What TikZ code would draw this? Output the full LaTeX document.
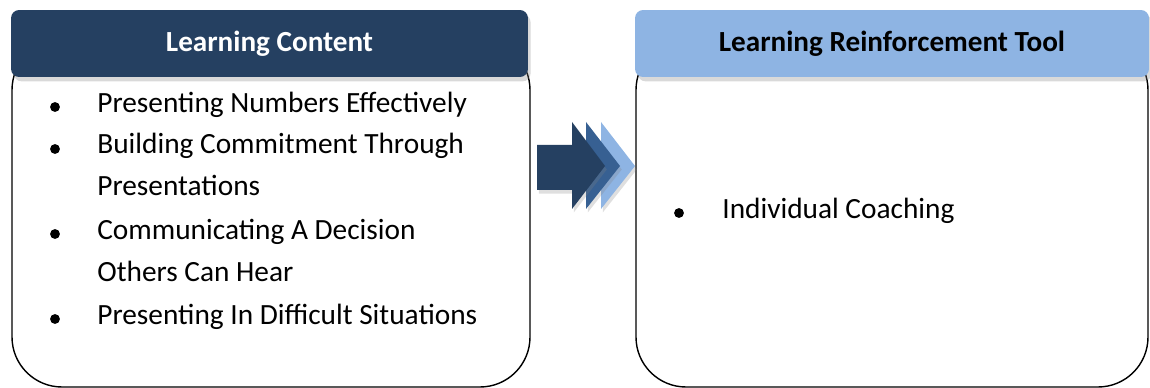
\documentclass[tikz,border=0pt]{standalone}
\usepackage{fontspec}
\setmainfont{Carlito}
\usepackage{tikz}
\usetikzlibrary{shadows}
\definecolor{navy}{HTML}{254061}
\definecolor{midblue}{HTML}{376092}
\definecolor{lightblue}{HTML}{8EB4E3}

\begin{document}
\begin{tikzpicture}[x=0.02cm, y=-0.02cm,
        panel/.style={draw=black, thick, rounded corners=1cm},
        header/.style={rounded corners=0.16cm, minimum height=1.34cm, inner sep=0pt,
                drop shadow={shadow xshift=1.5pt, shadow yshift=-2.5pt, opacity=0.3},
                font=\fontsize{16.6}{24.2}\selectfont\bfseries},
        item/.style={anchor=base west, align=left, inner sep=0pt,
                font=\fontsize{16.7}{24.2}\selectfont},
        chevron/.style={drop shadow={shadow xshift=1pt, shadow yshift=-2pt, opacity=0.25}}]
        
        \useasboundingbox (0,0) rectangle (1150,388);
        
        \draw[panel] (12,40) rectangle (530,387);
        \draw[panel] (636,40) rectangle (1148,387);
        
        \node[header, fill=navy, text=white, minimum width=10.34cm] (contenthead) at (269.5,43.5) {Learning Content};
        \node[header, fill=lightblue, text=black, minimum width=10.28cm] (toolhead) at (892,43.5) {Learning Reinforcement Tool};
        
        \node[item] (numbers) at (97,113) {Presenting Numbers Effectively};
        \node[item] (commitment) at (97,196) {Building Commitment Through\\Presentations};
        \node[item] (decision) at (97,282) {Communicating A Decision\\Others Can Hear};
        \node[item] (difficult) at (97,325) {Presenting In Difficult Situations};
        \node[item] (coaching) at (722,219) {Individual Coaching};
        
        \foreach \y in {107,149,234,319}
                \fill (55,\y) circle (2.8pt);
        \fill (679,213) circle (2.8pt);
        
        \fill[lightblue, chevron] (601,122) -- (635,166) -- (601,209) -- cycle;
        \fill[midblue, chevron] (586,122) -- (620,166) -- (586,209) -- cycle;
        \fill[navy, chevron] (537,145) -- (572,145) -- (572,122) -- (605,166) -- (572,209) -- (572,190) -- (537,190) -- cycle;
        
\end{tikzpicture}
\end{document}
